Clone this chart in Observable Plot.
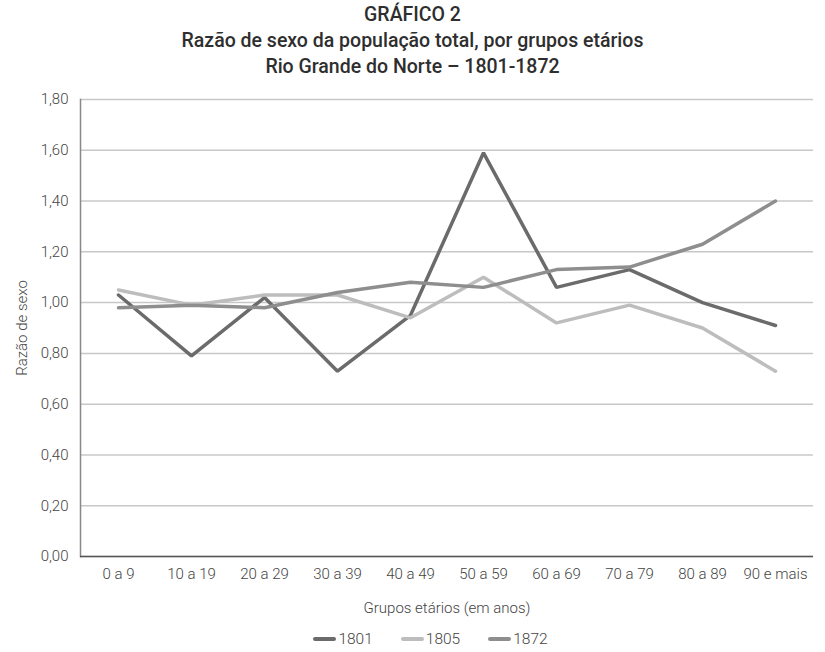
<!DOCTYPE html>
<html>
<head>
<meta charset="utf-8">
<script src="https://cdn.jsdelivr.net/npm/d3@7"></script>
<script src="https://cdn.jsdelivr.net/npm/@observablehq/plot@0.6"></script>
<style>
  body { margin: 0; background: #fff; font-family: Roboto, sans-serif; }
  #title { text-align: center; font-weight: 500; font-size: 19.5px; line-height: 26px; color: #2e2e2e; padding-top: 2px; height: 87px; box-sizing: border-box; }
  #legend { display: flex; justify-content: center; gap: 28px; font-size: 15.5px; font-weight: 300; color: #444; margin-top: 13px; padding-left: 36px; }
  #legend span.item { display: flex; align-items: center; }
  #legend span.sw { display: inline-block; width: 23px; height: 4px; margin-right: 2px; border-radius: 2px; }
</style>
</head>
<body>
<div id="title">GRÁFICO 2<br>Razão de sexo da população total, por grupos etários<br>Rio Grande do Norte – 1801-1872</div>
<div id="chart"></div>
<div id="legend"></div>
<script>
const grupos = ["0 a 9", "10 a 19", "20 a 29", "30 a 39", "40 a 49", "50 a 59", "60 a 69", "70 a 79", "80 a 89", "90 e mais"];
const s1801 = [1.03, 0.79, 1.02, 0.73, 0.95, 1.59, 1.06, 1.13, 1.00, 0.91];
const s1805 = [1.05, 0.99, 1.03, 1.03, 0.94, 1.10, 0.92, 0.99, 0.90, 0.73];
const s1872 = [0.98, 0.99, 0.98, 1.04, 1.08, 1.06, 1.13, 1.14, 1.23, 1.40];
const series = ["1801", "1805", "1872"];
const colors = ["#6b6b6b", "#bdbdbd", "#8e8e8e"];
const yTicks = [0, 0.2, 0.4, 0.6, 0.8, 1.0, 1.2, 1.4, 1.6, 1.8];

const data = [];
[s1801, s1805, s1872].forEach((vals, k) => {
  vals.forEach((v, i) => data.push({serie: series[k], grupo: grupos[i], valor: v}));
});

const fmt = v => d3.format(".2f")(v).replace(".", ",");

const chart = Plot.plot({
  width: 825,
  height: 530,
  marginTop: 12,
  marginBottom: 61,
  marginLeft: 80,
  marginRight: 12,
  style: { fontFamily: "Roboto, sans-serif", fontSize: "15px", fontWeight: 300, color: "#444", background: "#fff" },
  x: { type: "point", domain: grupos, padding: 0.5 },
  y: { domain: [0, 1.8] },
  color: { domain: series, range: colors },
  marks: [
    Plot.gridY(yTicks, { stroke: "#c8c8c8", strokeOpacity: 1, strokeWidth: 1.5 }),
    Plot.frame({ anchor: "left", stroke: "#888", strokeWidth: 1.5 }),
    Plot.ruleY([0], { stroke: "#555", strokeWidth: 1.5 }),
    Plot.axisY(yTicks, { tickSize: 0, tickPadding: 12, tickFormat: fmt, label: "Razão de sexo", labelAnchor: "center", labelArrow: "none", labelOffset: 64, fontSize: 15 }),
    Plot.axisX({ tickSize: 0, tickPadding: 12, label: "Grupos etários (em anos)", labelAnchor: "center", labelArrow: "none", labelOffset: 56, fontSize: 15 }),
    Plot.line(data, { x: "grupo", y: "valor", z: "serie", stroke: "serie", strokeWidth: 3.5, strokeLinejoin: "miter" })
  ]
});
document.getElementById("chart").appendChild(chart);

const legend = document.getElementById("legend");
series.forEach((s, k) => {
  const item = document.createElement("span");
  item.className = "item";
  const sw = document.createElement("span");
  sw.className = "sw";
  sw.style.background = colors[k];
  item.appendChild(sw);
  item.appendChild(document.createTextNode(s));
  legend.appendChild(item);
});
</script>
</body>
</html>
